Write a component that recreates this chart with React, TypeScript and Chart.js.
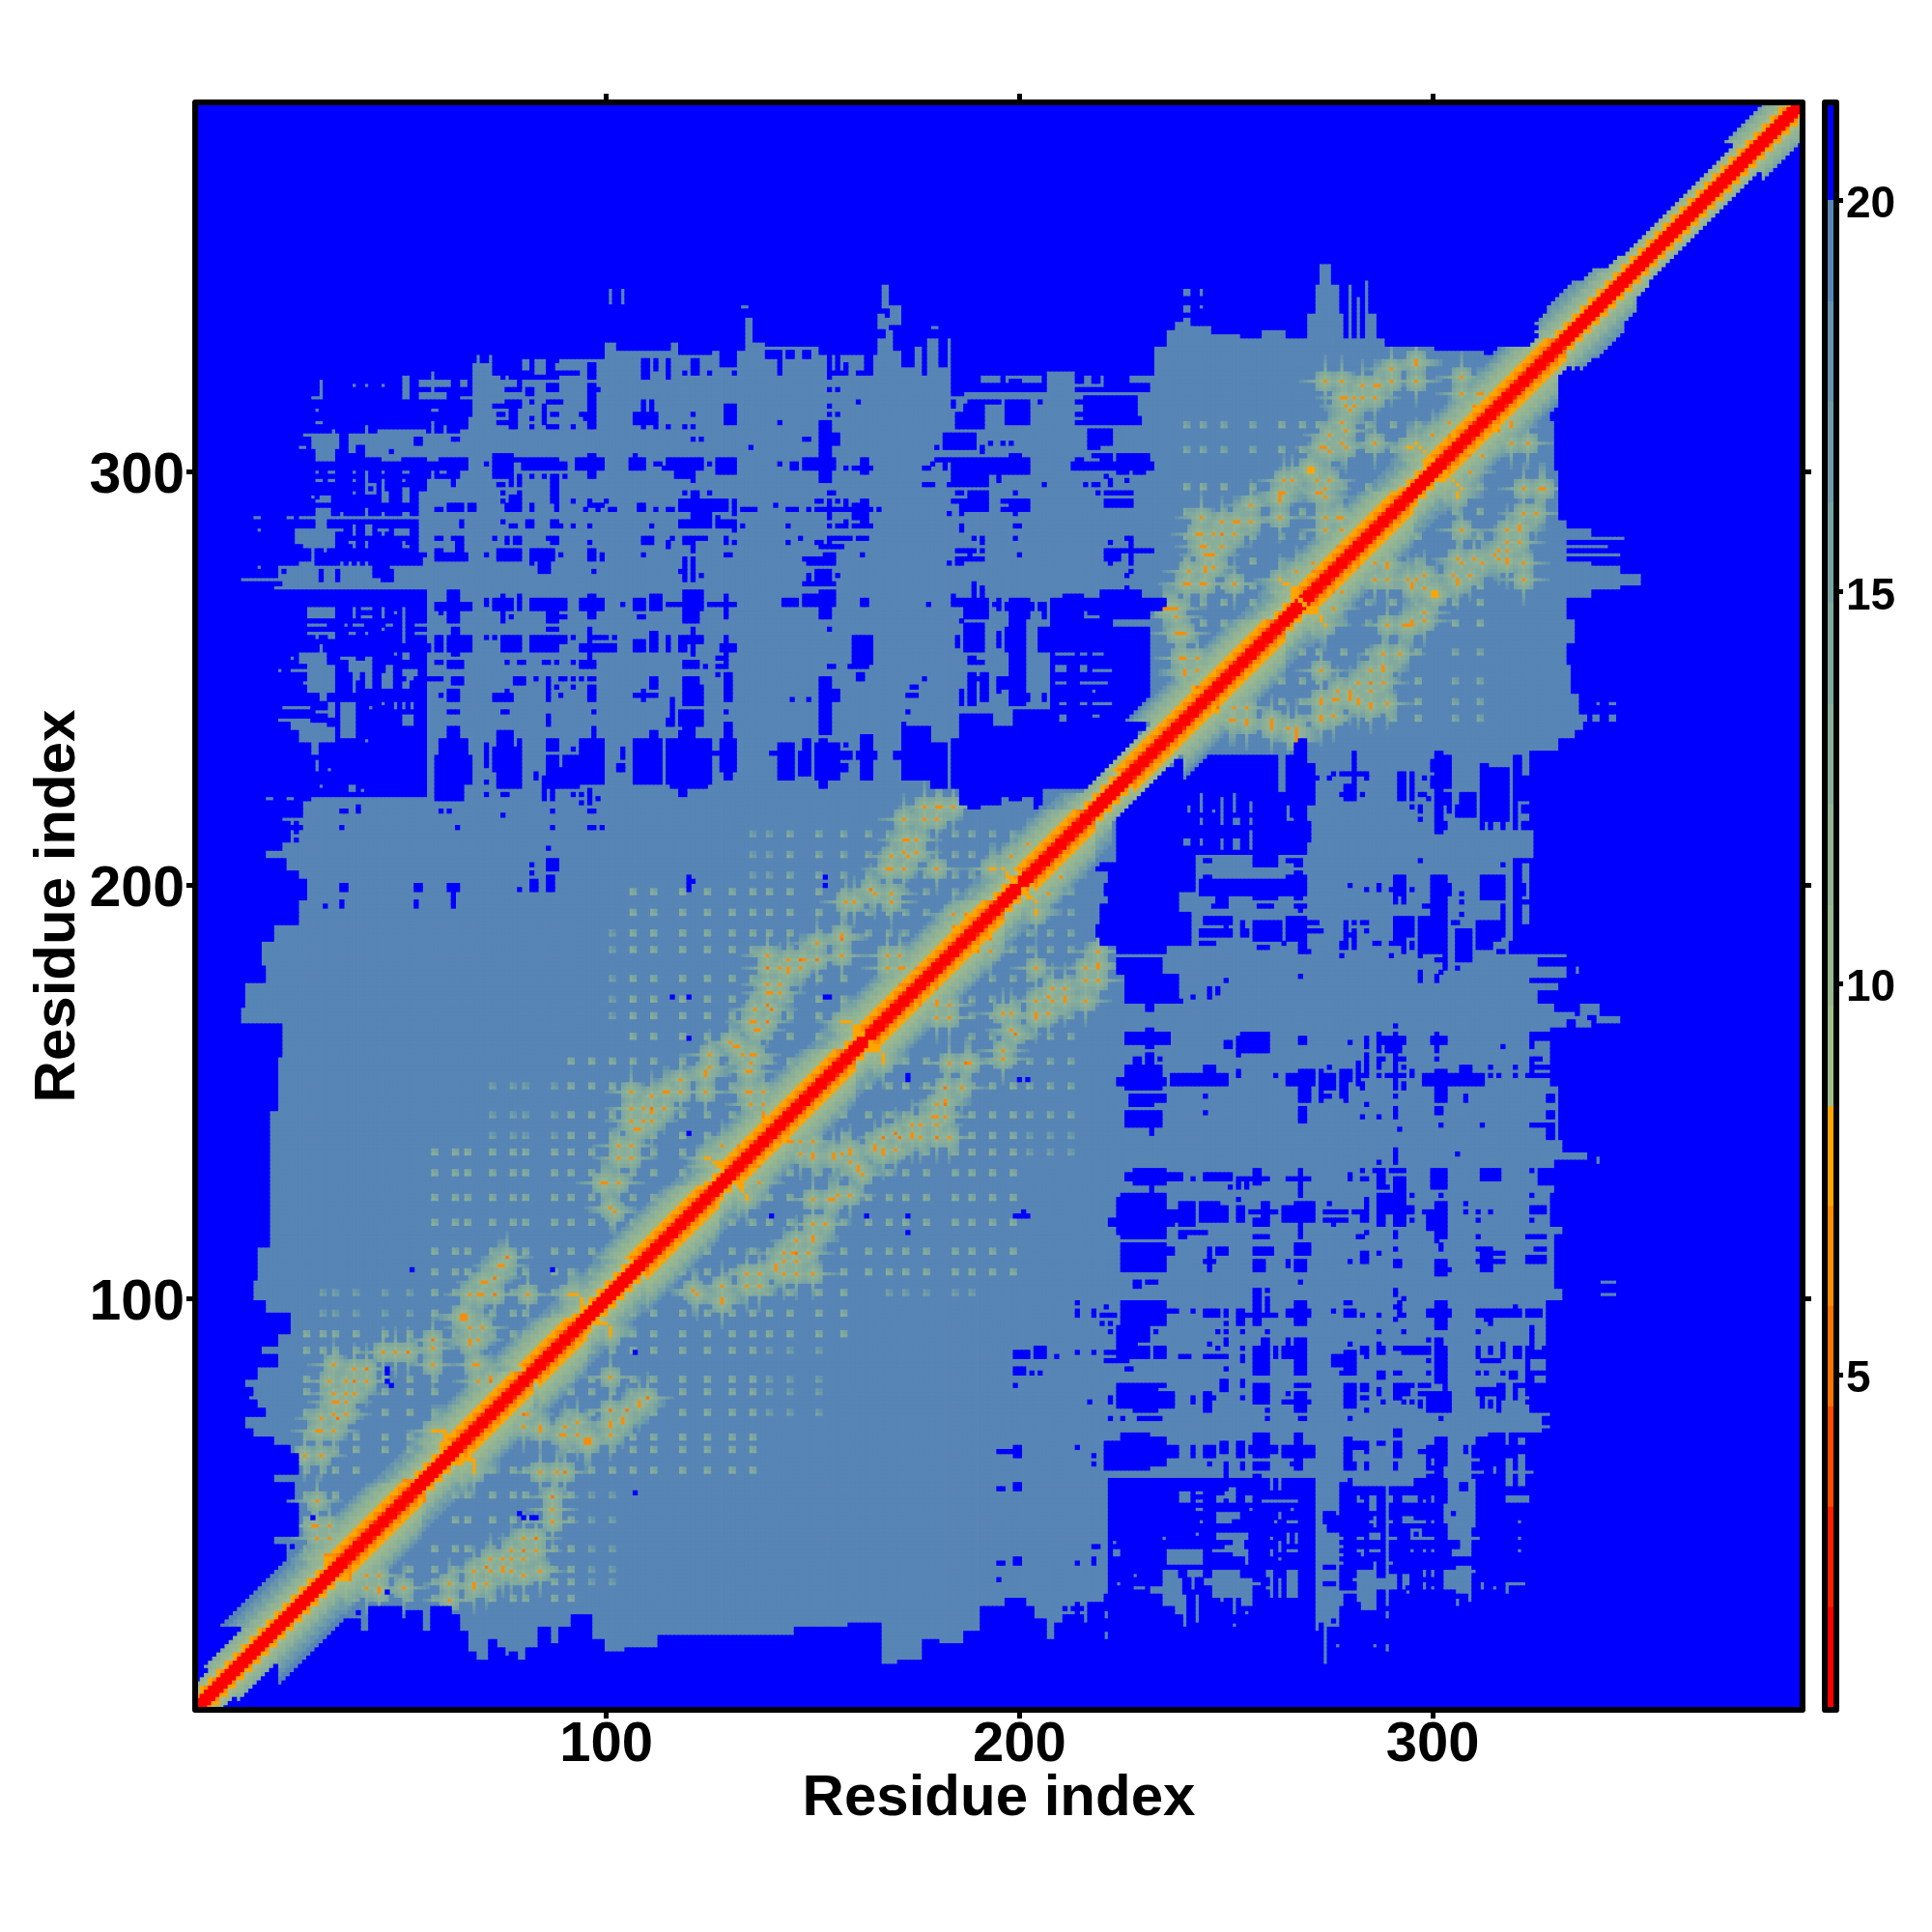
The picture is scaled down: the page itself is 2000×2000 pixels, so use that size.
import React, { useEffect, useRef } from "react";
import { Chart, registerables } from "chart.js";
Chart.register(...registerables);

const residueCount = 389;
const axisTicks = [100, 200, 300];
const axisTitle = "Residue index";
const colorTicks = [5, 10, 15, 20];
const colorEdges = [0.73, 2.04, 3.32, 4.6, 5.88, 7.16, 8.43, 9.72, 11, 12.29, 13.57, 14.86, 16.14, 17.43, 18.71, 20, 21.25];
const colorBins = ["#FF0000", "#FF1E00", "#FF4B00", "#FF7300", "#FF8C00", "#FFA500", "#A3BD8A", "#9AB88F", "#92B394", "#89AE99", "#81A99E", "#78A3A3", "#6F9CA8", "#6693AE", "#5785B5", "#0000FF"];

// rows [y0, y1, left x]: steel area reaches from the left x up to the diagonal
const leftEdge = [[24,30,17],[31,33,20],[34,40,23],[41,42,20],[43,50,26],[51,51,23],[52,55,25],[56,57,20],[58,62,26],[63,64,24],[65,66,20],[67,68,15],[69,71,13],[72,73,18],[74,75,16],[76,76,14],[77,78,15],[79,80,13],[81,83,16],[84,86,21],[87,88,17],[89,91,21],[92,96,24],[97,99,18],[100,104,15],[105,112,16],[113,145,19],[146,158,21],[159,166,22],[167,170,12],[171,176,13],[177,180,18],[181,186,17],[187,190,20],[191,196,26],[197,201,28],[202,203,26],[204,206,23],[207,208,18],[209,210,22],[211,215,24],[216,216,22],[217,219,27],[220,221,29]];
// columns [x0, x1, top y]: steel area runs from y=222 up to the top y
const topEdge = [[89,99,327],[100,102,331],[103,115,329],[116,117,331],[118,125,328],[126,127,329],[128,131,327],[132,133,329],[134,135,337],[136,138,331],[139,151,330],[152,165,328],[166,168,332],[169,169,334],[170,171,329],[172,174,325],[175,176,330],[177,177,323],[178,180,332],[181,182,325],[183,183,332],[184,206,323],[207,213,324],[214,232,323],[233,235,330],[236,237,334],[238,239,336],[240,241,337],[242,246,335],[247,253,333],[254,258,332],[259,264,334],[265,269,332],[270,271,338],[272,272,345],[273,275,350],[276,277,345],[278,278,338],[279,288,332],[289,300,330],[301,312,329],[313,329,328]];
// rectangles [x0, x1, y0, y1] of steel (value just under 20)
const steelPieces = [[57,88,222,277],[69,69,327,328],[72,72,327,328],[68,72,324,326],[68,74,309,323],[67,67,310,313],[75,78,321,322],[80,81,325,327],[83,85,324,327],[88,88,325,326],[76,76,323,323],[75,88,310,320],[80,85,321,322],[86,88,322,322],[31,31,318,322],[29,30,318,318],[39,39,321,321],[42,42,321,321],[46,46,321,321],[51,52,318,323],[55,62,321,322],[58,58,318,324],[55,61,318,319],[65,67,318,318],[65,66,321,322],[58,59,315,315],[30,30,315,315],[30,31,312,312],[27,35,309,309],[29,35,306,308],[30,34,303,305],[26,27,306,306],[34,34,310,310],[38,44,307,309],[38,39,305,306],[42,42,309,311],[42,44,304,306],[45,56,304,310],[56,64,304,309],[58,58,310,312],[61,61,310,311],[65,88,304,310],[46,50,303,303],[57,59,303,303],[67,74,301,303],[65,74,299,300],[30,30,300,300],[33,34,300,300],[30,31,298,298],[33,34,298,298],[39,39,300,300],[39,39,298,298],[39,39,295,295],[42,42,295,300],[43,44,295,297],[46,46,300,300],[46,46,296,298],[46,47,293,295],[51,52,300,300],[51,51,298,298],[51,52,293,296],[58,58,299,300],[60,61,300,300],[29,29,294,294],[31,33,293,294],[30,30,293,293],[57,66,277,298],[55,56,281,295],[67,74,278,298],[75,88,278,303],[30,33,289,291],[30,32,284,288],[25,34,283,286],[27,34,282,282],[29,29,278,281],[32,32,281,281],[26,56,289,289],[15,16,289,289],[23,24,289,289],[36,36,290,290],[42,42,290,291],[46,46,290,290],[51,52,290,290],[16,16,286,286],[16,16,277,277],[35,36,286,286],[39,39,285,287],[42,43,285,287],[45,47,286,286],[49,52,285,286],[46,46,285,285],[38,39,283,283],[39,39,282,282],[42,42,282,283],[51,52,282,282],[51,51,283,283],[55,56,285,286],[26,28,278,278],[38,38,278,278],[40,40,278,278],[42,42,278,278],[36,36,278,278],[56,59,278,279],[21,88,274,277],[12,20,274,274],[22,56,272,273],[20,21,272,272],[28,34,265,267],[39,39,265,267],[41,43,267,267],[41,43,265,265],[46,46,265,267],[49,49,266,266],[51,51,259,267],[28,32,263,263],[28,33,261,261],[30,30,260,260],[33,34,260,261],[39,41,263,263],[38,39,261,261],[42,42,261,261],[46,46,262,262],[47,48,263,263],[37,37,263,263],[54,57,263,263],[54,57,261,261],[31,31,257,258],[26,32,254,256],[28,34,247,253],[24,24,255,255],[21,21,252,252],[24,27,252,252],[27,27,249,249],[36,39,255,255],[38,41,252,254],[39,40,250,251],[42,43,248,255],[46,48,248,251],[47,48,252,253],[49,49,256,256],[51,52,255,256],[51,54,251,252],[52,53,250,250],[51,52,248,249],[39,39,247,249],[31,32,245,246],[33,34,243,244],[22,28,243,243],[21,28,240,240],[24,32,238,239],[26,34,235,238],[29,30,232,234],[30,30,228,230],[33,33,228,228],[30,34,242,242],[33,34,241,243],[36,39,236,244],[46,46,244,244],[49,49,243,244],[51,51,243,244],[53,53,243,244],[43,43,243,243],[51,53,239,241],[42,42,235,235],[31,31,224,224],[38,39,223,224],[41,41,223,223],[18,19,221,221],[23,24,221,221],[27,28,219,220],[280,280,333,345],[282,282,333,342],[284,284,333,346],[285,286,333,338],[240,241,343,344],[244,244,343,344],[240,241,339,340],[244,244,340,340],[133,134,340,340],[167,168,340,345],[166,167,335,338],[168,168,333,337],[169,171,336,340],[179,180,335,335],[101,101,341,344],[104,104,341,344]];
// rectangles [x0, x1, y0, y1] of blue (above 20) inside the steel area
const holesTop = [[96,97,323,326],[89,93,324,324],[109,110,323,327],[112,112,325,327],[115,115,323,327],[121,122,324,327],[119,119,324,324],[125,125,324,324],[128,131,326,327],[131,131,324,324],[139,142,328,329],[142,142,324,327],[144,145,328,329],[148,149,328,329],[154,154,323,328],[155,158,324,324],[156,156,325,328],[158,158,325,326],[163,164,325,328],[161,164,324,324],[154,154,320,320],[156,156,320,320],[161,161,317,317],[154,154,316,316],[154,154,314,314],[156,156,314,314],[96,97,311,321],[98,98,320,320],[94,95,314,314],[95,95,313,313],[89,89,317,317],[92,92,311,311],[107,112,312,314],[109,109,315,317],[111,111,315,317],[109,109,311,311],[112,112,311,311],[115,115,311,311],[119,119,311,311],[121,121,311,311],[121,121,314,314],[129,131,315,316],[129,131,312,314],[142,142,312,312],[152,154,303,312],[155,156,307,309],[148,149,308,308],[121,121,308,308],[123,123,308,308],[135,135,306,306],[89,90,301,302],[93,99,301,303],[96,97,299,304],[106,109,301,303],[107,107,304,304],[112,113,302,302],[114,114,301,301],[115,123,301,303],[117,121,299,300],[121,121,298,298],[125,125,302,302],[127,131,300,303],[142,142,302,302],[145,146,301,302],[148,155,301,303],[152,154,298,300],[158,158,301,301],[160,164,301,301],[162,163,300,303],[90,90,299,299],[119,119,295,295],[121,122,294,295],[125,125,295,295],[118,129,291,293],[121,125,289,290],[131,131,292,293],[131,131,290,291],[133,136,291,291],[141,141,292,292],[144,146,291,291],[149,149,291,291],[154,155,295,295],[151,164,291,291],[151,152,293,293],[154,154,289,293],[156,156,293,293],[158,158,292,293],[160,163,289,292],[162,163,288,293],[166,166,291,291],[92,92,293,293],[96,96,292,293],[95,95,291,291],[97,99,292,292],[98,98,291,291],[100,100,293,293],[101,102,291,291],[108,109,291,292],[112,112,291,291],[115,116,291,291],[118,125,287,288],[127,131,287,288],[127,127,289,289],[131,131,286,286],[133,133,287,287],[89,89,287,287],[92,92,287,287],[96,96,287,287],[111,111,287,287],[144,144,287,287],[154,154,287,287],[156,158,287,287],[158,158,288,288],[160,164,287,287],[162,163,289,289],[96,96,283,283],[109,111,283,284],[115,115,282,283],[116,116,284,284],[119,121,283,284],[121,124,284,284],[121,121,281,282],[129,129,283,284],[131,131,283,283],[144,144,283,283],[147,147,284,284],[154,159,284,284],[154,154,283,283],[151,152,283,283],[152,157,282,282],[161,163,284,284],[96,97,279,281],[99,99,279,280],[89,89,280,280],[109,109,280,280],[129,130,280,280],[153,155,278,280],[148,152,279,279],[149,152,278,278],[162,162,280,280],[119,119,274,279],[121,121,274,279],[118,118,276,276],[97,97,276,276],[123,123,275,275],[149,149,274,275],[151,154,274,276],[156,156,275,275]];
const holesMid = [[148,155,273,273],[89,90,267,269],[89,90,265,265],[94,99,267,269],[96,97,265,270],[104,104,268,268],[107,109,267,269],[108,109,265,265],[111,113,267,270],[115,118,268,268],[119,123,267,271],[119,122,264,266],[125,131,268,268],[129,129,265,270],[143,146,268,269],[148,155,268,270],[152,155,270,271],[152,154,265,267],[162,163,268,269],[154,154,262,262],[89,90,259,260],[92,92,260,260],[96,96,253,262],[97,100,260,260],[94,102,257,258],[102,102,260,260],[92,92,254,254],[94,97,253,254],[107,109,257,259],[111,112,257,261],[115,115,257,260],[118,119,257,260],[121,121,256,262],[120,123,259,260],[128,131,257,258],[129,129,253,260],[127,129,255,255],[119,122,253,254],[124,124,253,253],[127,129,253,253],[154,155,253,253],[160,164,254,260],[159,163,253,253],[161,162,250,251],[89,90,250,250],[92,92,250,250],[94,94,250,250],[96,97,250,250],[92,92,248,248],[96,97,245,248],[89,89,246,246],[111,112,248,250],[109,109,245,247],[107,112,246,246],[119,122,244,250],[121,123,244,248],[127,127,251,251],[129,130,245,251],[152,154,239,250],[155,156,245,247],[145,145,245,245],[149,149,245,245],[97,97,242,242],[129,129,242,242],[116,116,239,245],[115,116,239,240],[118,123,239,242],[119,121,236,238],[97,97,236,238],[152,154,237,238],[94,99,225,235],[89,93,224,228],[96,97,235,235],[92,92,233,233],[90,93,229,231],[104,104,231,233],[103,104,228,229],[107,113,225,235],[111,112,236,237],[115,125,225,235],[118,119,236,237],[118,119,222,224],[116,124,224,224],[128,131,228,235],[129,130,236,239],[129,130,226,227],[126,127,232,232],[140,145,232,232],[142,145,226,234],[147,149,227,232],[148,149,233,235],[151,156,226,234],[152,153,235,235],[152,153,224,225],[157,159,231,232],[157,158,228,229],[158,158,234,234],[161,165,231,232],[162,164,226,236],[92,92,222,222],[94,94,222,222],[94,94,220,220],[96,96,220,223],[98,98,221,221],[96,97,218,218],[96,97,214,214],[99,99,214,214],[120,120,199,202],[121,121,201,201],[153,153,202,202],[153,153,200,200]];
const holesLeft = [[59,67,267,268],[62,64,269,271],[62,64,264,266],[60,60,266,266],[71,71,268,269],[73,77,267,269],[75,75,264,270],[77,77,265,265],[79,79,267,270],[82,88,267,269],[86,88,264,266],[86,88,262,262],[63,64,260,262],[62,67,257,260],[57,57,257,258],[59,60,257,260],[63,64,256,256],[71,71,260,260],[73,73,260,260],[75,79,257,260],[82,88,257,260],[59,60,254,254],[62,65,253,254],[76,76,254,254],[79,80,254,254],[85,86,254,254],[88,88,254,254],[57,60,250,250],[63,65,249,250],[78,80,249,250],[83,83,250,250],[86,86,245,250],[88,88,248,248],[60,60,246,246],[62,64,245,247],[73,77,245,246],[76,76,247,247],[62,64,242,242],[75,76,242,242],[86,86,239,241],[62,64,235,238],[60,66,232,235],[59,67,225,231],[59,65,221,224],[71,71,229,234],[73,79,228,233],[74,77,234,237],[79,79,234,235],[74,79,224,227],[71,71,225,225],[71,71,222,222],[75,76,222,222],[83,83,226,227],[85,88,224,226],[86,88,227,231],[86,88,233,235],[85,85,221,223],[87,87,221,223],[60,60,218,218],[62,62,218,218],[75,75,217,217],[87,87,218,218],[64,64,214,214],[87,87,214,214],[86,86,209,209],[82,82,205,205],[82,82,203,203],[86,88,204,206],[86,87,199,202],[82,83,199,201],[79,79,199,199],[36,37,199,200],[54,55,199,200],[62,64,199,200],[63,63,195,198],[36,36,195,196],[54,54,195,196],[32,32,195,195],[36,37,218,218],[40,40,218,219],[36,36,214,214],[25,25,213,215],[24,26,214,214],[25,25,211,211],[76,79,320,320],[81,82,319,320],[86,88,320,321],[73,75,316,316],[76,79,316,317],[74,75,314,314],[74,76,312,312],[77,78,311,315],[82,82,317,317],[82,82,313,313],[82,82,311,311],[85,85,312,316],[86,88,317,317],[87,88,314,314],[86,88,311,311],[48,48,305,305],[54,55,307,308],[63,64,308,308],[43,43,296,296],[59,60,291,291],[62,65,291,292],[67,68,291,292],[65,65,287,288],[59,60,284,284],[63,65,284,284],[64,65,281,283],[59,60,281,281],[59,66,279,280],[63,63,297,299],[73,77,299,304],[78,79,303,303],[80,83,301,303],[84,88,301,303],[71,71,302,302],[74,75,297,297],[77,77,297,298],[79,79,297,299],[82,82,299,299],[85,85,299,299],[87,88,293,299],[75,75,295,295],[77,79,291,294],[79,79,295,295],[75,75,293,293],[76,79,291,292],[82,82,291,292],[88,88,291,293],[75,75,288,288],[77,78,287,287],[81,82,287,288],[87,88,287,288],[73,73,284,284],[76,76,283,284],[78,79,283,284],[86,88,284,284],[87,88,283,283],[74,79,279,281],[71,71,280,280],[82,87,279,281],[84,86,276,278],[82,82,278,278],[22,22,276,276],[31,31,274,276],[35,35,274,276],[44,45,275,277],[46,47,274,277],[48,48,274,276],[53,53,107,107],[87,87,107,107],[47,47,82,83],[47,47,80,80],[46,46,58,58],[58,58,46,46],[48,48,79,79],[29,29,47,47],[24,24,40,40],[116,116,173,173],[120,120,173,173],[153,154,173,173],[120,120,163,163],[120,120,140,140]];
const holesRight = [[184,186,319,323],[187,206,320,321],[214,231,320,320],[187,190,322,323],[196,196,322,323],[198,200,322,322],[203,205,321,321],[206,206,322,323],[214,215,322,323],[218,219,322,323],[221,226,321,323],[227,231,321,321],[188,195,317,317],[187,191,312,316],[185,191,311,314],[184,184,316,317],[197,202,312,317],[205,205,317,317],[214,215,317,317],[216,228,312,318],[214,215,314,314],[214,215,312,312],[228,229,312,313],[217,222,307,310],[217,219,306,306],[182,189,306,309],[180,180,306,306],[191,191,305,306],[193,193,307,307],[196,196,307,307],[198,198,307,307],[180,183,303,303],[177,178,301,301],[179,179,302,302],[182,182,301,302],[184,202,300,303],[184,192,297,303],[198,200,304,304],[195,195,298,299],[213,232,301,302],[214,215,303,303],[218,219,304,304],[220,222,303,304],[224,231,303,304],[224,226,300,300],[228,230,300,300],[177,179,297,297],[183,183,297,297],[206,206,297,297],[216,216,297,297],[218,219,297,297],[222,222,297,298],[221,221,299,299],[226,226,298,298],[185,186,295,295],[188,192,294,295],[184,192,293,293],[186,192,291,292],[183,183,290,290],[186,186,290,290],[199,199,295,295],[196,202,293,293],[198,202,292,292],[196,202,291,291],[199,199,290,290],[219,219,295,295],[221,227,295,295],[221,227,292,293],[186,186,286,287],[199,200,287,287],[189,189,284,284],[191,191,283,284],[199,199,284,284],[222,222,283,283],[226,227,284,284],[227,227,278,283],[221,232,281,281],[221,224,279,280],[222,222,278,278],[185,189,281,281],[191,191,281,281],[185,191,279,279],[185,186,278,278],[183,183,278,278],[188,188,280,280],[200,200,280,280],[226,226,275,275],[227,227,276,276],[189,189,270,273],[191,191,269,272],[184,192,268,269],[184,184,270,270],[187,192,265,267],[178,178,268,268],[195,195,267,269],[194,194,268,268],[197,203,267,268],[198,202,265,269],[205,206,267,268],[206,206,265,266],[208,235,267,269],[211,215,270,270],[220,229,270,271],[226,226,272,272],[208,215,265,266],[217,219,266,266],[220,231,265,266],[172,178,226,238],[170,171,231,232],[179,182,224,234],[184,217,224,235],[186,193,235,241],[193,228,235,238],[218,224,226,233],[224,227,232,235],[218,227,234,234],[186,195,220,224],[188,190,219,219],[196,205,222,224],[198,200,221,221],[204,205,219,221],[208,208,219,220],[205,205,217,217],[208,208,217,217],[208,231,246,262],[208,233,245,246],[199,230,238,242],[208,230,238,246],[205,207,257,262],[208,222,263,264],[187,191,257,263],[185,185,258,260],[188,189,254,255],[190,191,254,254],[195,195,258,261],[197,201,257,262],[198,201,244,264],[195,197,248,250],[195,195,247,247],[188,189,244,251],[190,190,250,250],[191,192,245,251],[186,186,244,247],[199,202,245,246],[199,203,241,242],[206,206,245,246],[205,205,241,241],[207,207,240,242],[174,175,248,248],[173,175,246,246],[177,177,250,250],[172,172,239,239],[173,173,242,242],[186,186,264,264]];
const steelOverHoles = [[209,213,256,256],[215,216,256,256],[218,220,256,256],[209,211,252,253],[215,216,252,253],[218,222,252,252],[209,211,249,249],[215,221,249,249],[218,218,247,247],[210,211,244,244],[215,216,244,244],[218,222,244,244],[218,219,241,241],[210,211,240,241]];

// diagonal ridge
const helixRanges = [[37,55],[65,82],[84,95],[110,127],[132,160],[165,196],[204,218],[228,248],[249,264],[271,295],[303,332]];
const ridgeReach = [[1,10,6],[11,20,8],[21,222,14],[223,239,7],[240,330,14],[331,333,7],[334,335,9],[336,339,11],[340,346,12],[347,349,10],[350,352,7],[353,379,6],[380,389,9]];
const wideRidgeA = [1.5, 1.5, 1.5, 5.3, 6.5, 7.8, 10, 10.5, 11, 12, 13, 14.5, 16, 17.5, 19];
const wideRidgeB = [1.5, 1.5, 3, 6.5, 7.8, 7.8, 10, 10.5, 11.5, 12.5, 13.5, 15, 16.5, 18, 19];
const thinRidgeA = [1.5, 1.5, 1.5, 6.5, 7.8, 10, 11, 12, 13.5, 15, 16, 17, 18, 19, 19];
const thinRidgeB = [1.5, 1.5, 1.5, 7.8, 9.5, 10.5, 11.5, 12.5, 14, 15.5, 16.5, 17.5, 18.5, 19, 19];

// patches of faint cross-hatching [x0, x1, y0, y1, value] and the residues that carry its lines
const sagePatches = [[24,62,58,92,13],[58,100,88,135,13],[88,135,118,160,13],[105,160,148,200,13],[140,190,185,222,13.5],[165,222,195,225,14],[70,98,125,155,15],[100,125,165,190,15.5],[118,135,175,195,15.5],[30,60,92,105,15.5],[25,35,30,58,13],[135,160,190,215,15],[238,300,270,325,14],[240,262,262,300,13],[262,300,290,328,13],[285,325,305,330,13],[245,300,275,330,15]];
const hatchResidues = [27,31,34,39,46,52,58,63,66,72,77,80,87,91,96,101,106,111,118,124,130,135,139,144,151,157,163,168,172,177,184,188,193,198,202,207,212,240,244,249,256,263,268,272,278,284,290,296,305,311];

// contact cells
const contactsOrange = [[46,87],[49,87],[58,88],[58,84],[39,83],[34,84],[33,80],[37,80],[42,80],[34,77],[37,77],[39,77],[34,75],[35,75],[37,75],[37,72],[34,72],[31,71],[30,68],[31,68],[34,68],[27,62],[31,62],[30,51],[29,45],[30,45],[33,45],[30,42],[33,42],[33,38],[32,38],[51,56],[52,56],[65,96],[66,96],[65,95],[66,95],[67,93],[70,93],[67,89],[69,90],[67,90],[68,84],[69,84],[72,81],[69,80],[69,101],[70,101],[67,101],[70,104],[71,104],[74,108],[75,108],[81,101],[99,128],[100,128],[101,122],[102,121],[103,128],[103,134],[106,134],[106,137],[103,137],[106,146],[109,146],[111,145],[114,146],[106,143],[109,143],[111,143],[107,141],[108,141],[114,150],[115,150],[111,149],[106,150],[118,150],[118,153],[124,155],[125,156],[124,154],[124,150],[130,162],[131,161],[132,161],[136,159],[135,159],[133,159],[125,159],[134,155],[135,157],[135,155],[135,150],[134,150],[138,150],[135,147],[138,147],[138,144],[138,145],[132,137],[128,137],[136,170],[135,167],[136,167],[136,165],[137,165],[139,174],[140,174],[142,174],[139,176],[142,176],[142,180],[144,179],[144,180],[147,180],[139,183],[144,182],[148,182],[151,186],[157,188],[157,183],[168,183],[171,183],[171,180],[172,180],[168,180],[175,180],[171,176],[172,176],[165,198],[158,196],[160,196],[168,204],[169,204],[177,219],[180,219],[181,219],[184,219],[172,216],[177,216],[180,216],[172,211],[173,211],[175,211],[172,208],[173,207],[175,208],[169,207],[172,204],[180,204],[169,198],[169,196],[184,193],[187,193],[184,190],[202,210],[198,207],[239,261],[240,261],[240,255],[243,255],[243,252],[240,251],[235,267],[236,267],[237,267],[238,267],[238,265],[238,261],[239,255],[240,252],[244,289],[249,288],[252,288],[253,288],[256,288],[256,292],[243,285],[244,285],[247,285],[252,285],[244,282],[245,282],[249,282],[245,280],[246,280],[247,280],[247,277],[245,277],[245,276],[241,276],[241,273],[240,273],[244,273],[245,273],[252,273],[263,295],[263,294],[263,293],[264,295],[263,289],[267,276],[272,298],[275,298],[272,295],[273,295],[274,294],[274,296],[264,298],[266,298],[274,289],[277,289],[278,289],[274,286],[278,286],[277,282],[271,276],[271,278],[275,309],[279,310],[278,307],[279,306],[274,306],[275,305],[273,306],[278,312],[279,316],[280,315],[281,316],[281,318],[283,318],[286,318],[278,318],[279,318],[274,322],[278,322],[283,321],[286,321],[287,321],[290,322],[290,325],[296,326],[296,327],[296,322],[286,307],[304,312],[307,323],[311,319],[312,319],[307,319],[310,316],[300,309],[304,309],[305,308]];
const contactsPale = [[58,68],[59,68],[60,68],[61,67],[61,66],[62,65],[61,68],[91,101],[92,101],[93,101],[94,100],[94,99],[95,98],[124,134],[125,134],[126,133],[127,133],[128,132],[128,131],[157,167],[158,167],[159,167],[160,166],[161,164],[162,164],[160,165],[193,204],[194,204],[196,204],[197,203],[197,202],[198,201],[199,201],[242,248],[243,248],[263,274],[264,273],[265,273],[266,272],[267,271],[267,270],[268,269],[294,306],[295,306],[296,307],[297,306],[298,305],[299,304],[300,303],[270,301],[271,301],[270,300],[271,300]];
const contactsDeep = [[52,87],[58,90],[42,83],[39,80],[35,71],[72,80],[73,101],[73,105],[76,110],[111,146],[139,171],[140,170],[139,167],[139,180],[147,182],[151,182],[157,187],[164,199],[249,285],[243,248]];

function buildMatrix() {
  const n = residueCount;
  const m = new Float32Array((n + 1) * (n + 1)).fill(21);
  const put = (x: number, y: number, v: number) => {
    if (x < 1 || y < 1 || x > n || y > n) return;
    m[x * (n + 1) + y] = v;
    m[y * (n + 1) + x] = v;
  };
  const get = (x: number, y: number) => (x < 1 || y < 1 || x > n || y > n ? 21 : m[x * (n + 1) + y]);
  const rects = (list: number[][], v: number) => {
    for (const [x0, x1, y0, y1] of list) for (let x = x0; x <= x1; x++) for (let y = y0; y <= y1; y++) put(x, y, v);
  };
  for (const [y0, y1, left] of leftEdge) for (let y = y0; y <= y1; y++) for (let x = left; x <= y; x++) put(x, y, 19);
  for (const [x0, x1, top] of topEdge) for (let x = x0; x <= x1; x++) for (let y = Math.max(222, x); y <= top; y++) put(x, y, 19);
  rects(steelPieces, 19);
  rects(holesTop, 21);
  rects(holesMid, 21);
  rects(holesLeft, 21);
  rects(holesRight, 21);
  rects(steelOverHoles, 19);

  const contacts = [...contactsOrange, ...contactsPale, ...contactsDeep];
  const hatch = new Set<number>(hatchResidues);
  for (const [x0, x1, y0, y1, v] of sagePatches) {
    for (let x = x0; x <= x1; x++) for (let y = Math.max(y0, x); y <= y1; y++) {
      if (get(x, y) >= 20) continue;
      if (hatch.has(x) && hatch.has(y)) {
        for (let a = 0; a <= 1; a++) for (let b = 0; b <= 1; b++) if (get(x + a, y + b) < 20) put(x + a, y + b, Math.min(get(x + a, y + b), v + (a + b) * 1.5));
      }
    }
  }
  const soften = (x: number, y: number, v: number) => {
    const cur = get(x, y);
    if (cur < 20 && v < cur) put(x, y, v);
  };
  for (const [x, y] of contacts) {
    for (let d = 1; d <= 6; d++) {
      const v = 10.5 + d * 1.2;
      soften(x + d, y, v); soften(x - d, y, v); soften(x, y + d, v); soften(x, y - d, v);
    }
    for (let a = -2; a <= 2; a++) for (let b = -2; b <= 2; b++) soften(x + a, y + b, 10.5 + 1.2 * (Math.abs(a) + Math.abs(b)));
  }
  for (const [a, b, reach] of ridgeReach) {
    for (let y = a; y <= b; y++) {
      const wide = helixRanges.some(([s, e]) => y >= s && y <= e);
      for (let off = 0; off <= reach; off++) {
        const x = y - off;
        if (x < 1) continue;
        const phase = ((x + y) >> 1) & 1;
        const profile = wide ? (phase ? wideRidgeB : wideRidgeA) : phase ? thinRidgeB : thinRidgeA;
        const v = profile[Math.min(off, profile.length - 1)];
        if (v < get(x, y)) put(x, y, v);
      }
    }
  }
  for (const [x, y] of contactsOrange) put(x, y, 6.5);
  for (const [x, y] of contactsPale) put(x, y, 7.8);
  for (const [x, y] of contactsDeep) put(x, y, 5.3);
  return { m, n };
}

function binOf(v: number) {
  for (let i = 0; i < colorBins.length; i++) if (v < colorEdges[i + 1]) return i;
  return colorBins.length - 1;
}

const FONT = "'Liberation Sans', Arial, sans-serif";

const framePlugin = {
  id: "frame",
  beforeDatasetsDraw(chart: any) {
    if (chart.canvas.width < 1000) return;
    const { ctx, chartArea: a } = chart;
    ctx.save();
    ctx.fillStyle = colorBins[colorBins.length - 1];
    ctx.fillRect(a.left, a.top, a.right - a.left, a.bottom - a.top);
    ctx.restore();
  },
  afterDatasetsDraw(chart: any) {
    const { ctx, chartArea: a } = chart;
    ctx.save();
    ctx.strokeStyle = "#000";
    ctx.lineWidth = 6;
    ctx.lineJoin = "round";
    ctx.strokeRect(a.left, a.top, a.right - a.left, a.bottom - a.top);
    ctx.restore();
  },
};

export default function App() {
  const mapRef = useRef<HTMLCanvasElement>(null);
  const barRef = useRef<HTMLCanvasElement>(null);
  useEffect(() => {
    document.body.style.margin = "0";
    const { m, n } = buildMatrix();
    const groups: { x: number; y: number }[][] = colorBins.map(() => []);
    for (let x = 1; x <= n; x++) for (let y = 1; y <= n; y++) groups[binOf(m[x * (n + 1) + y])].push({ x, y });
    const order = colorBins.map((_, i) => colorBins.length - 1 - i);
    const cellRadius = ((1664 / n + 1.0) / 2) * Math.SQRT2;
    const setTicks = (s: any) => { s.ticks = axisTicks.map((value) => ({ value })); };
    const tickGrid = { display: true, drawOnChartArea: false, drawTicks: true, tickLength: 9, tickWidth: 5, tickColor: "#000" };
    const base = { type: "linear", min: 0.5, max: n + 0.5, afterBuildTicks: setTicks, grid: tickGrid, border: { display: false } };
    const map = new Chart(mapRef.current!, {
      type: "scatter",
      data: {
        datasets: order.map((i) => ({
          label: "d" + i,
          data: groups[i],
          parsing: false,
          showLine: false,
          pointStyle: "rect",
          pointRadius: cellRadius,
          pointBorderWidth: 0,
          pointBackgroundColor: colorBins[i],
          pointHoverRadius: cellRadius,
        })),
      } as any,
      options: {
        animation: false,
        responsive: false,
        devicePixelRatio: 1,
        events: [],
        layout: { padding: 0 },
        plugins: { legend: { display: false }, tooltip: { enabled: false } },
        scales: {
          x: {
            ...base, position: "bottom",
            afterFit: (s: any) => { s.height = 230; },
            ticks: { display: true, autoSkip: false, maxRotation: 0, padding: -7, color: "#000", font: { family: FONT, weight: "bold", size: 58 } },
            title: { display: true, text: axisTitle, color: "#000", font: { family: FONT, weight: "bold", size: 60, lineHeight: 1.2 }, padding: { top: 0, bottom: 102 } },
          },
          x2: { ...base, position: "top", afterFit: (s: any) => { s.height = 106; }, ticks: { display: false } },
          y: {
            ...base, position: "left",
            afterFit: (s: any) => { s.width = 202; },
            ticks: { display: true, autoSkip: false, maxRotation: 0, padding: 2, labelOffset: 5, color: "#000", font: { family: FONT, weight: "bold", size: 59 } },
            title: { display: true, text: axisTitle, color: "#000", font: { family: FONT, weight: "bold", size: 60, lineHeight: 1.2 }, padding: { top: 24, bottom: 0 } },
          },
          y2: { ...base, position: "right", afterFit: (s: any) => { s.width = 134; }, ticks: { display: false } },
        },
      } as any,
      plugins: [framePlugin],
    });

    const bar = new Chart(barRef.current!, {
      type: "bar",
      data: {
        labels: ["scale"],
        datasets: colorBins.map((c, i) => ({
          label: "bin" + i,
          data: [[colorEdges[i], colorEdges[i + 1]]],
          backgroundColor: c,
          borderWidth: 0,
          barPercentage: 1,
          categoryPercentage: 1,
          grouped: false,
        })),
      } as any,
      options: {
        animation: false,
        responsive: false,
        devicePixelRatio: 1,
        events: [],
        layout: { padding: { left: 19, top: 106, bottom: 230, right: 0 } },
        plugins: { legend: { display: false }, tooltip: { enabled: false } },
        scales: {
          x: { display: false },
          y: {
            type: "linear", position: "right", min: colorEdges[0], max: colorEdges[colorEdges.length - 1],
            afterBuildTicks: (s: any) => { s.ticks = colorTicks.map((value) => ({ value })); },
            afterFit: (s: any) => { s.width = 99; },
            grid: { display: true, drawOnChartArea: false, drawTicks: true, tickLength: 7, tickWidth: 5, tickColor: "#000" },
            border: { display: false },
            ticks: { display: true, autoSkip: false, maxRotation: 0, padding: 3, labelOffset: 5, color: "#000", font: { family: FONT, weight: "bold", size: 46 } },
          },
        },
      } as any,
      plugins: [framePlugin],
    });
    return () => { map.destroy(); bar.destroy(); };
  }, []);
  return (
    <div style={{ position: "relative", width: 2000, height: 2000, background: "#fff" }}>
      <canvas ref={mapRef} width={2000} height={2000} style={{ position: "absolute", left: 0, top: 0, width: 2000, height: 2000 }} />
      <canvas ref={barRef} width={130} height={2000} style={{ position: "absolute", left: 1870, top: 0, width: 130, height: 2000 }} />
    </div>
  );
}
